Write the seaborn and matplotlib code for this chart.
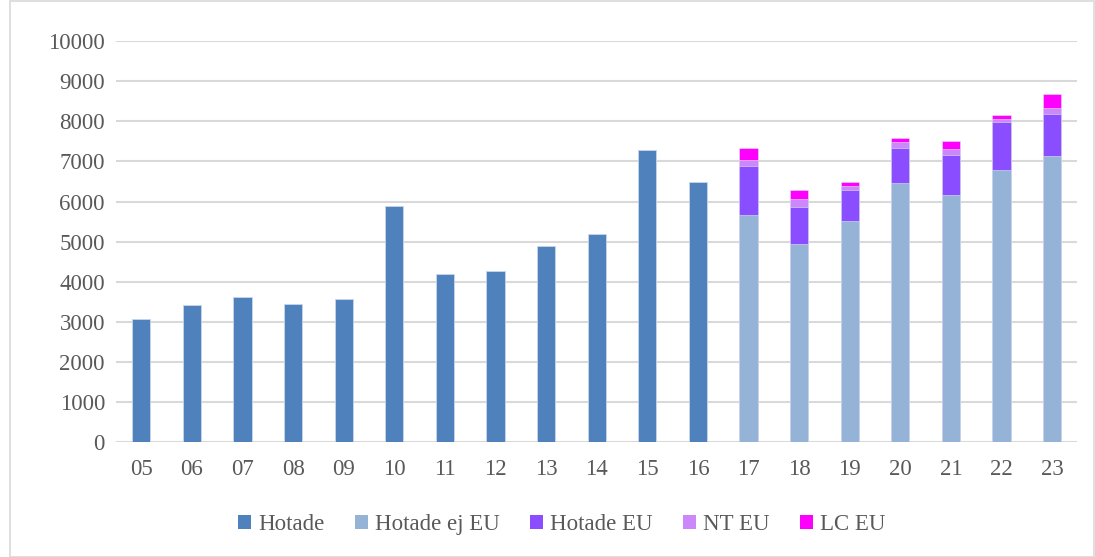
import numpy as np
import pandas as pd
import matplotlib.pyplot as plt
import seaborn as sns
from matplotlib.patches import Patch, Rectangle

# -----------------------------------------------------------
# Data
# -----------------------------------------------------------
years = ['05', '06', '07', '08', '09', '10', '11', '12', '13', '14',
         '15', '16', '17', '18', '19', '20', '21', '22', '23']

hotade = [3060, 3430, 3620, 3440, 3580, 5900, 4190, 4275, 4890, 5200,
          7290, 6475]

stack_years = ['17', '18', '19', '20', '21', '22', '23']
hotade_ej_eu = [5660, 4940, 5510, 6470, 6165, 6795, 7140]
hotade_eu = [1215, 920, 770, 875, 985, 1200, 1050]
nt_eu = [165, 200, 100, 150, 150, 75, 150]
lc_eu = [300, 220, 100, 100, 200, 100, 340]

series = ['Hotade', 'Hotade ej EU', 'Hotade EU', 'NT EU', 'LC EU']
colors = ['#4F81BD', '#95B3D7', '#8A4DFF', '#CC88FA', '#FF00FF']

# -----------------------------------------------------------
# Build tables (cumulative heights for the stack)
# -----------------------------------------------------------
df_h = pd.DataFrame({'year': years[:len(hotade)], 'value': hotade})

stack = pd.DataFrame({'year': stack_years,
                      'Hotade ej EU': hotade_ej_eu,
                      'Hotade EU': hotade_eu,
                      'NT EU': nt_eu,
                      'LC EU': lc_eu}).set_index('year')
cum = stack.cumsum(axis=1)

# -----------------------------------------------------------
# Plot
# -----------------------------------------------------------
sns.set_theme(style='white')
plt.rcParams['font.family'] = ['Liberation Serif', 'DejaVu Serif']

fig, ax = plt.subplots(figsize=(10.95, 5.57), dpi=100)
fig.subplots_adjust(left=0.106, right=0.984, bottom=0.2065, top=0.926)

ax.yaxis.grid(True, color='#D9D9D9', linewidth=1.5, zorder=0)
ax.set_axisbelow(True)

bw = 0.36
sns.barplot(data=df_h, x='year', y='value', order=years, color=colors[0],
            width=bw, saturation=1, edgecolor='#C9D7EA', linewidth=0.6,
            ax=ax, zorder=2)

# tallest layer first so lower layers cover it
for name, col in zip(series[:0:-1], colors[:0:-1]):
    d = cum[name].reset_index()
    sns.barplot(data=d, x='year', y=name, order=years, color=col,
                width=bw, saturation=1, edgecolor='#DDE6F2', linewidth=0.4,
                ax=ax, zorder=2)

ax.set_ylim(0, 10000)
ax.set_yticks(np.arange(0, 10001, 1000))
ax.set_xlim(-0.5, len(years) - 0.5)
ax.set_xlabel('')
ax.set_ylabel('')
ax.tick_params(axis='both', labelsize=16.5, labelcolor='#595959',
               length=0, pad=8)
ax.tick_params(axis='x', pad=12)
for s in ax.spines.values():
    s.set_visible(False)

handles = [Patch(facecolor=c, edgecolor='none') for c in colors]
fig.legend(handles, series, loc='center', bbox_to_anchor=(0.513, 0.058),
           ncol=5, frameon=False, fontsize=16.5, handlelength=0.55,
           handleheight=0.55, handletextpad=0.3, columnspacing=1.35,
           labelcolor='#595959')

# light outer border of the chart
fig.patches.append(Rectangle((0.009, 0.0), 0.99, 0.999, transform=fig.transFigure,
                             fill=False, edgecolor='#D9D9D9', linewidth=1.2))

plt.savefig('out.png', dpi=100)
